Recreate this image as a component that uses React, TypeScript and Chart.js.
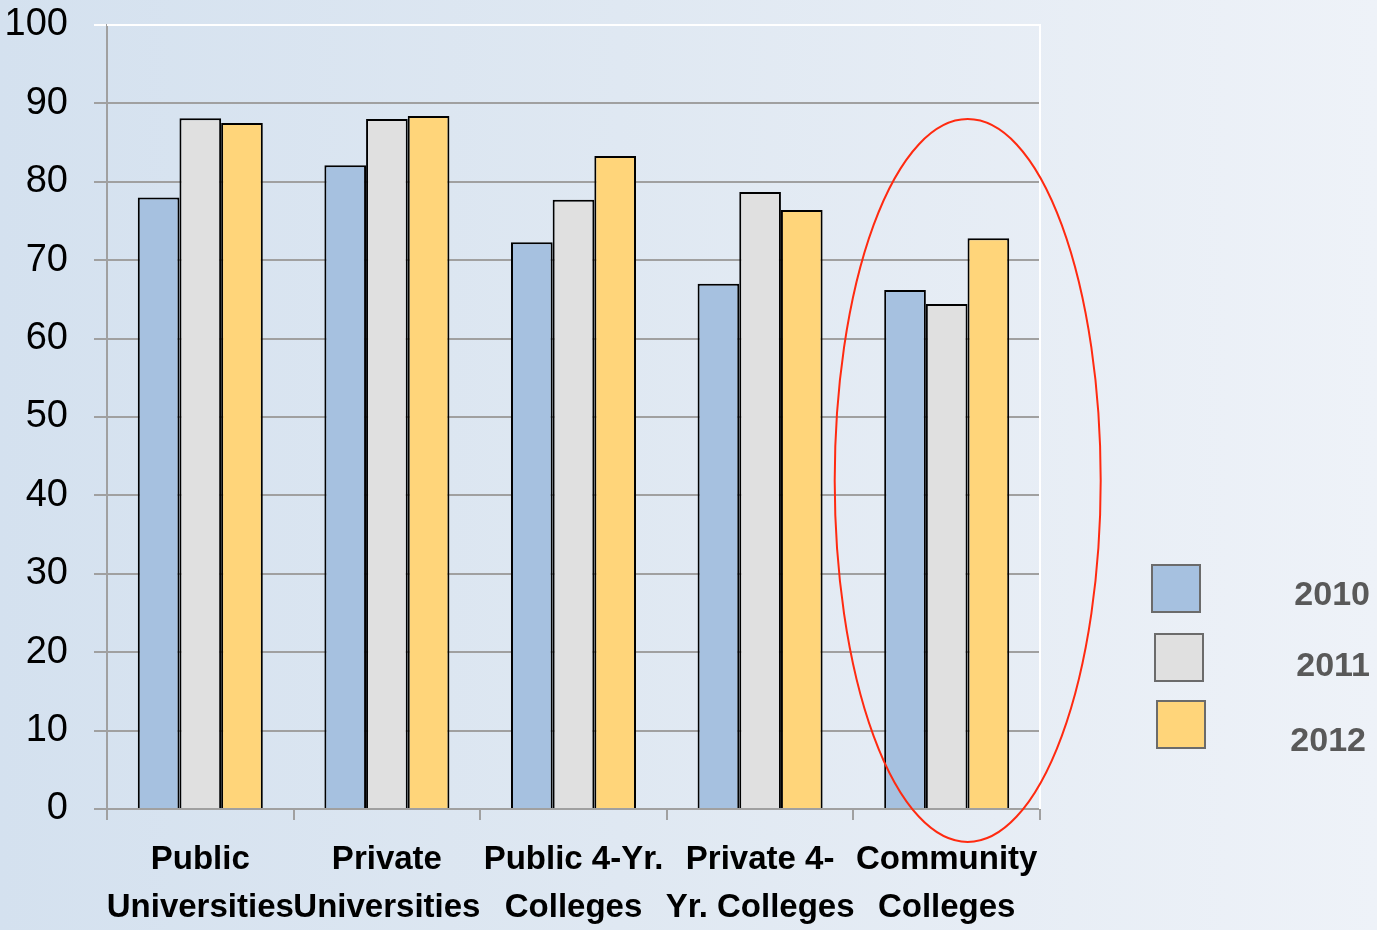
import React, { useEffect, useRef } from "react";
import { Chart, registerables } from "chart.js";

Chart.register(...registerables);

const categories: string[][] = [
  ["Public", "Universities"],
  ["Private", "Universities"],
  ["Public 4-Yr.", "Colleges"],
  ["Private 4-", "Yr. Colleges"],
  ["Community", "Colleges"],
];
const seriesLabels = ["2010", "2011", "2012"];
const values2010 = [78.0, 82.1, 72.3, 67.0, 66.2];
const values2011 = [88.1, 88.0, 77.7, 78.7, 64.4];
const values2012 = [87.5, 88.4, 83.3, 76.4, 72.8];
const seriesColors = ["#a6c1e0", "#e0e0e0", "#ffd57a"];
const yMin = 0;
const yMax = 100;
const yStep = 10;
const highlightIndex = 4;

const FONT = "'Liberation Sans', Arial, sans-serif";

const overlayPlugin = {
  id: "overlay",
  afterDatasetsDraw(chart: any) {
    const { ctx, chartArea, scales } = chart;
    ctx.save();
    // white plot-area border (top and right)
    ctx.strokeStyle = "#ffffff";
    ctx.lineWidth = 2;
    ctx.beginPath();
    ctx.moveTo(chartArea.left, chartArea.top);
    ctx.lineTo(chartArea.right, chartArea.top);
    ctx.lineTo(chartArea.right, chartArea.bottom);
    ctx.stroke();

    // red ellipse around highlighted category
    const cx = scales.x.getPixelForValue(highlightIndex) + 21;
    const yTop = scales.y.getPixelForValue(88.0);
    const yBot = scales.y.getPixelForValue(-4.2);
    const cy = (yTop + yBot) / 2;
    const ry = (yBot - yTop) / 2;
    const rx = 133;
    ctx.strokeStyle = "#ff2a10";
    ctx.lineWidth = 2;
    ctx.beginPath();
    ctx.ellipse(cx, cy, rx, ry, 0, 0, Math.PI * 2);
    ctx.stroke();

    // legend
    const boxX = [chartArea.right + 112, chartArea.right + 115, chartArea.right + 117];
    const boxY = [565, 634, 701];
    const textY = [596, 667, 742];
    chart.data.datasets.forEach((ds: any, i: number) => {
      ctx.fillStyle = ds.backgroundColor;
      ctx.fillRect(boxX[i], boxY[i], 48, 47);
      ctx.strokeStyle = "#6b6b6b";
      ctx.lineWidth = 2;
      ctx.strokeRect(boxX[i], boxY[i], 48, 47);
      ctx.fillStyle = "#595959";
      ctx.font = `bold 34px ${FONT}`;
      ctx.textAlign = "right";
      ctx.textBaseline = "middle";
      ctx.fillText(ds.label, chartArea.right + 330 - (i === 2 ? 4 : 0), textY[i]);
    });
    ctx.restore();
  },
};

function App() {
  const ref = useRef<HTMLCanvasElement | null>(null);

  useEffect(() => {
    document.body.style.margin = "0";
    const canvas = ref.current!;
    const chart = new Chart(canvas, {
      type: "bar",
      data: {
        labels: categories,
        datasets: [
          { label: seriesLabels[0], data: values2010, backgroundColor: seriesColors[0] },
          { label: seriesLabels[1], data: values2011, backgroundColor: seriesColors[1] },
          { label: seriesLabels[2], data: values2012, backgroundColor: seriesColors[2] },
        ].map((d) => ({
          ...d,
          borderColor: "#000000",
          borderWidth: 2,
          borderSkipped: "bottom",
          categoryPercentage: 0.67,
          barPercentage: 1.0,
        })),
      },
      options: {
        animation: false,
        responsive: false,
        maintainAspectRatio: false,
        layout: { padding: { top: 25, right: 337, left: 0, bottom: 0 } },
        plugins: {
          legend: { display: false },
          tooltip: { enabled: false },
        },
        scales: {
          x: {
            grid: {
              display: true,
              drawOnChartArea: false,
              drawTicks: true,
              tickLength: 11,
              color: "#a0a0a0",
              lineWidth: 2,
              offset: true,
            },
            border: { display: true, color: "#a0a0a0", width: 2 },
            ticks: {
              color: "#000000",
              font: { family: FONT, size: 33, weight: "bold", lineHeight: 1.45 },
              padding: 16,
              maxRotation: 0,
              autoSkip: false,
            },
            afterFit: (s: any) => {
              s.height = 121;
              s.paddingLeft = 0;
              s.paddingRight = 0;
            },
          },
          y: {
            min: yMin,
            max: yMax,
            ticks: {
              stepSize: yStep,
              color: "#000000",
              font: { family: FONT, size: 38 },
              padding: 26,
            },
            grid: {
              color: (c: any) => (c.tick && c.tick.value === yMax ? "#ffffff" : "#a0a0a0"),
              lineWidth: 2,
              tickLength: 13,
              drawTicks: true,
            },
            border: { display: true, color: "#a0a0a0", width: 2 },
            afterFit: (s: any) => {
              s.width = 107;
              s.paddingTop = 0;
              s.paddingBottom = 0;
            },
          },
        },
      },
      plugins: [overlayPlugin],
    });
    return () => chart.destroy();
  }, []);

  return (
    <div
      style={{
        position: "fixed",
        left: 0,
        top: 0,
        width: 1377,
        height: 930,
        background: "linear-gradient(90deg, #d4e1ef 0%, #dfe8f2 45%, #eef2f8 100%)",
      }}
    >
      <canvas ref={ref} width={1377} height={930} style={{ display: "block" }} />
    </div>
  );
}

export default App;
